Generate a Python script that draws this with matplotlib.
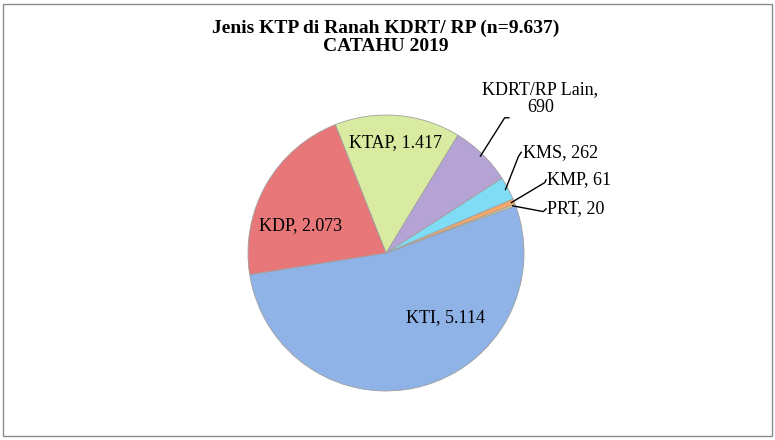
import numpy as np
import matplotlib.pyplot as plt
from matplotlib.patches import Rectangle

labels = ['KTI', 'PRT', 'KMP', 'KMS', 'KDRT/RP Lain', 'KTAP', 'KDP']
values = [5114, 20, 61, 262, 690, 1417, 2073]
value_text = ['5.114', '20', '61', '262', '690', '1.417', '2.073']
colors = ['#8fb3e6', '#f2e08a', '#f4a868', '#7fdcf4', '#b6a3d6', '#d8eba0', '#e8777a']

plt.rcParams['font.family'] = ['Liberation Serif', 'DejaVu Serif']

fig = plt.figure(figsize=(7.75, 4.4), dpi=100)
fig.patches.append(Rectangle((0.004, 0.01), 0.992, 0.98, transform=fig.transFigure,
                             fill=False, edgecolor='#8c8c8c', linewidth=1))
ax = fig.add_axes([248 / 775, 49 / 440, 276 / 775, 276 / 440])
wedges, _ = ax.pie(values, colors=colors, startangle=189, counterclock=True,
                   wedgeprops=dict(edgecolor='#a0a0a0', linewidth=0.6))
ax.set_xlim(-1, 1)
ax.set_ylim(-1, 1)
ax.set_aspect('equal')
ax.axis('off')

fs = 13
# inside labels
inside = {0: (0.43, -0.47), 6: (-0.62, 0.20), 5: (0.07, 0.80)}
for i, (x, y) in inside.items():
    ax.text(x, y, f'{labels[i]}, {value_text[i]}', ha='center', va='center', fontsize=fs)

# outside labels with leader lines: (line end, text position)
outside = {3: ((0.96, 0.70), (0.99, 0.73)),
           2: ((1.15, 0.51), (1.17, 0.53)),
           1: ((1.14, 0.30), (1.17, 0.32))}
for i, (elbow, tpos) in outside.items():
    w = wedges[i]
    ang = np.deg2rad((w.theta1 + w.theta2) / 2)
    ex, ey = 0.98 * np.cos(ang), 0.98 * np.sin(ang)
    ax.plot([ex, elbow[0], tpos[0] - 0.01], [ey, elbow[1], tpos[1]], color='black',
            linewidth=1, clip_on=False)
    ax.text(tpos[0], tpos[1], f'{labels[i]}, {value_text[i]}', ha='left', va='center',
            fontsize=fs)

# KDRT/RP Lain label
w = wedges[4]
ang = np.deg2rad((w.theta1 + w.theta2) / 2)
ax.plot([0.98 * np.cos(ang), 0.86, 0.89], [0.98 * np.sin(ang), 0.98, 0.98],
        color='black', linewidth=1, clip_on=False)
ax.text(1.12, 1.12, f'{labels[4]},\n{value_text[4]}', ha='center', va='center',
        fontsize=fs, linespacing=1.1)

fig.text(0.498, 0.915, 'Jenis KTP di Ranah KDRT/ RP (n=9.637)\nCATAHU 2019', ha='center',
         va='center', fontsize=14, fontweight='bold', linespacing=1.1)

fig.savefig('out.png', dpi=100)
